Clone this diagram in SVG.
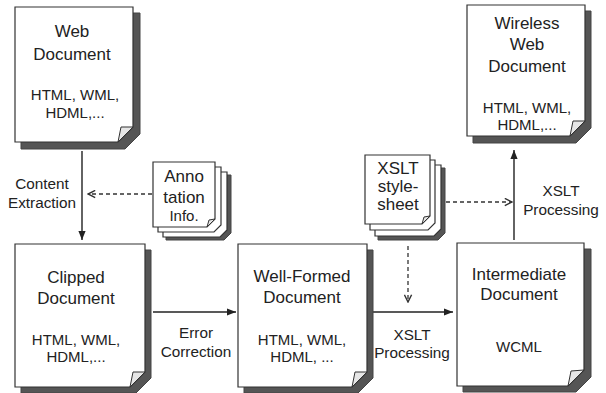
<svg xmlns="http://www.w3.org/2000/svg" width="606" height="393" viewBox="0 0 606 393">
  <defs>
    <style>
      text { font-family: "Liberation Sans", Arial, sans-serif; fill: #222; text-anchor: middle; }
      .t { font-size: 17px; }
      .s { font-size: 15px; }
      .lbl { font-size: 15.3px; }
      .st { font-size: 17px; }
      .page { fill: #fff; stroke: #333; stroke-width: 1.2; }
      .shadow { fill: #555; stroke: #444; stroke-width: 1; }
      .fold { fill: #e6e6e6; stroke: #333; stroke-width: 1; stroke-linejoin: round; }
      .line { stroke: #222; stroke-width: 1.4; fill: none; }
      .dash { stroke: #333; stroke-width: 1.3; fill: none; stroke-dasharray: 4 3; }
    </style>
    <marker id="solid" viewBox="0 0 10 10" refX="10" refY="5" markerWidth="9" markerHeight="9" markerUnits="userSpaceOnUse" orient="auto">
      <path d="M0,1 L10,5 L0,9 Z" fill="#222"/>
    </marker>
    <marker id="open" viewBox="0 0 10 10" refX="9" refY="5" markerWidth="9" markerHeight="9" markerUnits="userSpaceOnUse" orient="auto">
      <path d="M1,1 L9,5 L1,9" fill="none" stroke="#333" stroke-width="1.6"/>
    </marker>
  </defs>

  <rect width="606" height="393" fill="#fff"/>

  <!-- connectors -->
  <g id="connectors">
    <line class="line" x1="82" y1="151" x2="82" y2="240" marker-end="url(#solid)"/>
    <line class="dash" x1="152" y1="194" x2="88" y2="194" marker-end="url(#open)"/>
    <line class="line" x1="153" y1="312" x2="236" y2="312" marker-end="url(#solid)"/>
    <line class="line" x1="372" y1="312" x2="453" y2="312" marker-end="url(#solid)"/>
    <line class="dash" x1="408" y1="246" x2="408" y2="302" marker-end="url(#open)"/>
    <line class="dash" x1="446" y1="202" x2="512" y2="202" marker-end="url(#open)"/>
    <line class="line" x1="514" y1="240" x2="514" y2="150" marker-end="url(#solid)"/>
    <text class="lbl" x="42" y="189">Content</text>
    <text class="lbl" x="42" y="208">Extraction</text>
    <text class="lbl" x="196" y="338">Error</text>
    <text class="lbl" x="196" y="357">Correction</text>
    <text class="lbl" x="412" y="340">XSLT</text>
    <text class="lbl" x="412" y="358">Processing</text>
    <text class="lbl" x="561" y="196">XSLT</text>
    <text class="lbl" x="561" y="215">Processing</text>
  </g>

  <!-- Web Document -->
  <g id="web-document">
    <path class="shadow" d="M21,13 H140 V134 L125,149 H21 Z"/>
    <path class="page" d="M15,7 H133 V127 L118,142 H15 Z"/>
    <path class="fold" d="M118,142 L121,127 L133,127 Z"/>
    <text class="t" x="72" y="37">Web</text>
    <text class="t" x="72" y="60">Document</text>
    <text class="s" x="75" y="100">HTML, WML,</text>
    <text class="s" x="75" y="118">HDML,...</text>
  </g>

  <!-- Wireless Web Document -->
  <g id="wireless-document">
    <path class="shadow" d="M473,11 H591 V128 L576,143 H473 Z"/>
    <path class="page" d="M467,5 H585 V121 L570,136 H467 Z"/>
    <path class="fold" d="M570,136 L573,121 L585,121 Z"/>
    <text class="t" x="527" y="29">Wireless</text>
    <text class="t" x="527" y="50">Web</text>
    <text class="t" x="527" y="72">Document</text>
    <text class="s" x="527" y="113">HTML, WML,</text>
    <text class="s" x="527" y="130">HDML,...</text>
  </g>

  <!-- Annotation Info. stack -->
  <g id="annotation-info">
    <path class="shadow" d="M166,175 H231 V233 L224,240 H166 Z"/>
    <path class="page" d="M163,172 H227 V230 L220,237 H163 Z"/>
    <path class="page" d="M158,167 H221 V225 L214,232 H158 Z"/>
    <path class="page" d="M153,162 H215 V219 L207,227 H153 Z"/>
    <path class="fold" d="M207,227 L209,220 L215,219 Z"/>
    <text class="t" x="184" y="182">Anno</text>
    <text class="t" x="184" y="203">tation</text>
    <text class="s" x="184" y="221">Info.</text>
  </g>

  <!-- XSLT stylesheet stack -->
  <g id="xslt-stylesheet">
    <path class="shadow" d="M378,168 H445 V233 L438,240 H378 Z"/>
    <path class="page" d="M375,165 H441 V229 L434,236 H375 Z"/>
    <path class="page" d="M370,160 H435 V223 L428,230 H370 Z"/>
    <path class="page" d="M365,155 H430 V216 L422,224 H365 Z"/>
    <path class="fold" d="M422,224 L424,217 L430,216 Z"/>
    <text class="st" x="398" y="174">XSLT</text>
    <text class="st" x="398" y="192">style-</text>
    <text class="st" x="398" y="210">sheet</text>
  </g>

  <!-- Clipped Document -->
  <g id="clipped-document">
    <path class="shadow" d="M21,250 H151 V378 L136,393 H21 Z"/>
    <path class="page" d="M15,244 H145 V372 L130,387 H15 Z"/>
    <path class="fold" d="M130,387 L133,372 L145,372 Z"/>
    <text class="t" x="76" y="283">Clipped</text>
    <text class="t" x="76" y="304">Document</text>
    <text class="s" x="76" y="345">HTML, WML,</text>
    <text class="s" x="76" y="362">HDML,...</text>
  </g>

  <!-- Well-Formed Document -->
  <g id="wellformed-document">
    <path class="shadow" d="M244,250 H373 V378 L358,393 H244 Z"/>
    <path class="page" d="M238,244 H367 V372 L352,387 H238 Z"/>
    <path class="fold" d="M352,387 L355,372 L367,372 Z"/>
    <text class="t" x="302" y="282">Well-Formed</text>
    <text class="t" x="302" y="303">Document</text>
    <text class="s" x="302" y="345">HTML, WML,</text>
    <text class="s" x="302" y="362">HDML, ...</text>
  </g>

  <!-- Intermediate Document -->
  <g id="intermediate-document">
    <path class="shadow" d="M463,249 H591 V377 L576,392 H463 Z"/>
    <path class="page" d="M457,243 H584 V370 L568,386 H457 Z"/>
    <path class="fold" d="M568,386 L571,371 L584,370 Z"/>
    <text class="t" x="519" y="280">Intermediate</text>
    <text class="t" x="519" y="300">Document</text>
    <text class="s" x="519" y="352">WCML</text>
  </g>
</svg>
